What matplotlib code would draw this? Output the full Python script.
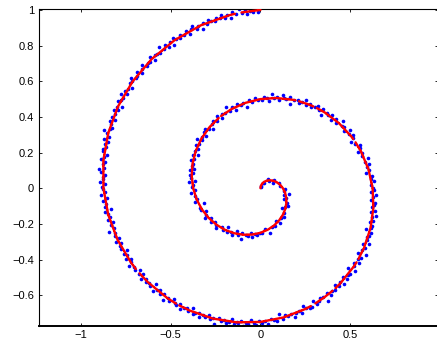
import numpy as np
import matplotlib
matplotlib.use("Agg")
import matplotlib.pyplot as plt

nan = np.nan

# Noisy samples: position along the spiral in turns (clockwise from +y) and radius
blue_turn = [
    0.012, 0.035, 0.060, 0.082, 0.105, 0.130, 0.158, 0.185, 0.210, 0.236,
    0.255, 0.268, 0.281, 0.292, 0.306, 0.318, 0.331, 0.343, 0.356, 0.368,
    0.381, 0.393, 0.405, 0.418, 0.431, 0.443, 0.456, 0.468, 0.481, 0.494,
    0.503, 0.510, 0.519, 0.526, 0.534, 0.540, 0.549, 0.557, 0.563, 0.571,
    0.580, 0.586, 0.594, 0.603, 0.610, 0.616, 0.625, 0.633, 0.639, 0.648,
    0.655, 0.662, 0.671, 0.677, 0.686, 0.693, 0.700, 0.708, 0.717, 0.723,
    0.731, 0.740, 0.746,
    0.752, 0.757, 0.763, 0.768, 0.773, 0.779, 0.785, 0.790, 0.795, 0.801,
    0.806, 0.812, 0.817, 0.822, 0.828, 0.833, 0.839, 0.844, 0.849, 0.855,
    0.860, 0.866, 0.871, 0.876, 0.882, 0.887, 0.893, 0.898, 0.903, 0.909,
    0.914, 0.920, 0.925, 0.930, 0.936, 0.941, 0.947, 0.952, 0.957, 0.963,
    0.968, 0.974, 0.979, 0.984, 0.990, 0.995,
    1.002, 1.006, 1.011, 1.015, 1.019, 1.024, 1.028, 1.032, 1.037, 1.041,
    1.045, 1.050, 1.054, 1.058, 1.063, 1.067, 1.071, 1.076, 1.080, 1.084,
    1.089, 1.093, 1.097, 1.102, 1.106, 1.110, 1.115, 1.119, 1.123, 1.128,
    1.132, 1.136, 1.141, 1.145, 1.149, 1.154, 1.158, 1.162, 1.167, 1.171,
    1.175, 1.180, 1.184, 1.188, 1.193, 1.197, 1.201, 1.206, 1.210, 1.214,
    1.219, 1.223, 1.227, 1.232, 1.236, 1.240, 1.245, 1.249,
    1.253, 1.256, 1.260, 1.263, 1.267, 1.270, 1.274, 1.277, 1.281, 1.284,
    1.288, 1.291, 1.295, 1.298, 1.302, 1.305, 1.309, 1.312, 1.316, 1.319,
    1.323, 1.326, 1.330, 1.333, 1.337, 1.340, 1.344, 1.347, 1.351, 1.354,
    1.358, 1.361, 1.365, 1.368, 1.372, 1.375, 1.379, 1.382, 1.386, 1.389,
    1.393, 1.396, 1.400, 1.403, 1.407, 1.410, 1.414, 1.417, 1.421, 1.424,
    1.428, 1.431, 1.435, 1.438, 1.442, 1.445, 1.449, 1.452, 1.456, 1.459,
    1.463, 1.466, 1.470, 1.473, 1.477, 1.480, 1.484, 1.487, 1.491, 1.494,
    1.498,
    1.502, 1.505, 1.508, 1.511, 1.514, 1.517, 1.520, 1.523, 1.526, 1.528,
    1.531, 1.534, 1.537, 1.540, 1.543, 1.546, 1.549, 1.552, 1.555, 1.558,
    1.561, 1.564, 1.567, 1.570, 1.573, 1.576, 1.578, 1.581, 1.584, 1.587,
    1.590, 1.593, 1.596, 1.599, 1.602, 1.605, 1.608, 1.611, 1.614, 1.617,
    1.620, 1.623, 1.626, 1.628, 1.631, 1.634, 1.637, 1.640, 1.643, 1.646,
    1.649, 1.652, 1.655, 1.658, 1.661, 1.664, 1.667, 1.670, 1.673, 1.676,
    1.678, 1.681, 1.684, 1.687, 1.690, 1.693, 1.696, 1.699, 1.702, 1.705,
    1.708, 1.711, 1.714, 1.717, 1.720, 1.723, 1.726, 1.728, 1.731, 1.734,
    1.737, 1.740, 1.743, 1.746, 1.749,
    1.751, 1.754, 1.756, 1.759, 1.761, 1.764, 1.766, 1.769, 1.771, 1.774,
    1.777, 1.779, 1.782, 1.784, 1.787, 1.789, 1.792, 1.794, 1.797, 1.799,
    1.802, 1.805, 1.807, 1.810, 1.812, 1.815, 1.817, 1.820, 1.822, 1.825,
    1.828, 1.830, 1.833, 1.835, 1.838, 1.840, 1.843, 1.845, 1.848, 1.850,
    1.853, 1.856, 1.858, 1.861, 1.863, 1.866, 1.868, 1.871, 1.873, 1.876,
    1.879, 1.881, 1.884, 1.886, 1.889, 1.891, 1.894, 1.896, 1.899, 1.901,
    1.904, 1.907, 1.909, 1.912, 1.914, 1.917, 1.919, 1.922, 1.924, 1.927,
    1.930, 1.932, 1.935, 1.937, 1.940, 1.942, 1.945, 1.947, 1.950, 1.952,
    1.955, 1.958, 1.960, 1.963, 1.965, 1.968, 1.970, 1.973, 1.975, 1.978,
    1.981, 1.983, 1.986, 1.988, 1.991, 1.993, 1.996, 1.998,
]
blue_radius = [
    0.014, 0.006, 0.033, 0.036, 0.068, 0.063, 0.088, 0.075, 0.109, 0.111,
    0.139, 0.131, 0.163, 0.137, 0.154, 0.145, 0.172, 0.185, 0.172, 0.164,
    0.193, 0.207, 0.199, 0.226, 0.205, 0.227, 0.227, 0.259, 0.233, 0.254,
    0.254, 0.265, 0.256, 0.280, 0.256, 0.275, 0.274, 0.304, 0.274, 0.293,
    0.274, 0.305, 0.294, 0.306, 0.281, 0.317, 0.307, 0.331, 0.320, 0.314,
    0.333, 0.323, 0.354, 0.337, 0.330, 0.354, 0.353, 0.327, 0.370, 0.358,
    0.367, 0.386, 0.364,
    0.382, 0.376, 0.402, 0.369, 0.389, 0.399, 0.387, 0.403, 0.386, 0.404,
    0.398, 0.421, 0.407, 0.420, 0.396, 0.421, 0.413, 0.433, 0.422, 0.450,
    0.421, 0.434, 0.422, 0.444, 0.454, 0.438, 0.427, 0.451, 0.462, 0.451,
    0.474, 0.449, 0.468, 0.464, 0.493, 0.463, 0.481, 0.460, 0.491, 0.479,
    0.488, 0.463, 0.499, 0.486, 0.509, 0.497,
    0.495, 0.512, 0.508, 0.493, 0.530, 0.509, 0.520, 0.507, 0.535, 0.522,
    0.519, 0.536, 0.500, 0.532, 0.539, 0.521, 0.534, 0.556, 0.532, 0.547,
    0.535, 0.547, 0.563, 0.545, 0.562, 0.531, 0.562, 0.557, 0.574, 0.548,
    0.573, 0.560, 0.596, 0.572, 0.580, 0.566, 0.596, 0.577, 0.594, 0.588,
    0.568, 0.584, 0.605, 0.600, 0.583, 0.600, 0.592, 0.625, 0.602, 0.618,
    0.603, 0.616, 0.596, 0.625, 0.616, 0.635, 0.618, 0.628,
    0.631, 0.619, 0.644, 0.630, 0.617, 0.641, 0.638, 0.633, 0.651, 0.629,
    0.663, 0.642, 0.651, 0.638, 0.659, 0.652, 0.633, 0.668, 0.663, 0.653,
    0.662, 0.678, 0.655, 0.669, 0.664, 0.694, 0.657, 0.681, 0.673, 0.688,
    0.671, 0.682, 0.699, 0.665, 0.690, 0.686, 0.699, 0.679, 0.713, 0.689,
    0.700, 0.684, 0.706, 0.701, 0.717, 0.696, 0.735, 0.705, 0.700, 0.714,
    0.722, 0.700, 0.723, 0.729, 0.718, 0.702, 0.737, 0.719, 0.729, 0.747,
    0.727, 0.736, 0.723, 0.744, 0.713, 0.749, 0.742, 0.736, 0.760, 0.743,
    0.755,
    0.744, 0.765, 0.756, 0.741, 0.763, 0.758, 0.781, 0.753, 0.767, 0.760,
    0.775, 0.749, 0.770, 0.783, 0.766, 0.776, 0.764, 0.802, 0.776, 0.786,
    0.768, 0.787, 0.781, 0.801, 0.779, 0.788, 0.800, 0.771, 0.800, 0.789,
    0.797, 0.815, 0.788, 0.804, 0.800, 0.787, 0.814, 0.802, 0.830, 0.802,
    0.816, 0.800, 0.814, 0.828, 0.792, 0.822, 0.817, 0.829, 0.816, 0.840,
    0.816, 0.829, 0.814, 0.836, 0.831, 0.852, 0.829, 0.825, 0.849, 0.835,
    0.843, 0.822, 0.850, 0.846, 0.838, 0.862, 0.836, 0.856, 0.850, 0.880,
    0.846, 0.859, 0.842, 0.869, 0.856, 0.863, 0.876, 0.842, 0.872, 0.865,
    0.878, 0.859, 0.890, 0.868, 0.879,
    0.881, 0.867, 0.895, 0.877, 0.882, 0.868, 0.891, 0.907, 0.880, 0.890,
    0.880, 0.902, 0.890, 0.873, 0.900, 0.905, 0.892, 0.899, 0.887, 0.915,
    0.894, 0.907, 0.929, 0.900, 0.895, 0.908, 0.918, 0.894, 0.918, 0.911,
    0.927, 0.907, 0.920, 0.896, 0.930, 0.921, 0.917, 0.941, 0.914, 0.931,
    0.924, 0.913, 0.937, 0.933, 0.952, 0.927, 0.933, 0.946, 0.924, 0.942,
    0.956, 0.932, 0.942, 0.939, 0.957, 0.928, 0.952, 0.951, 0.943, 0.975,
    0.950, 0.963, 0.944, 0.962, 0.937, 0.973, 0.961, 0.955, 0.970, 0.961,
    0.976, 0.952, 0.972, 0.988, 0.962, 0.973, 0.948, 0.981, 0.971, 0.989,
    0.978, 0.969, 0.986, 0.981, 0.998, 0.977, 0.988, 0.971, 0.998, 0.984,
    1.012, 0.989, 1.001, 0.982, 0.998, 0.991, 1.010, 0.990,
]

# Fitted curve (nan marks breaks in the curve)
red_turn = [
    0.0, 0.0278, 0.0556, 0.0833, 0.1111, 0.1389, 0.1667, 0.1944, 0.2222, 0.25,
    0.2778, 0.3056, 0.3333, 0.3611, 0.3889, 0.4167, 0.4444, 0.4722, 0.5, 0.5278,
    0.5556, 0.5833, 0.6111, 0.6389, 0.6667, 0.6944, 0.7222, 0.75, 0.7778, 0.8056,
    0.8333, 0.8611, 0.8889, 0.915, nan, 0.921, 0.9444, 0.9722, 1.0, 1.0278,
    1.0556, 1.06, nan, 1.066, 1.0833, 1.091, nan, 1.097, 1.1111, 1.1389,
    1.1667, 1.172, nan, 1.178, 1.1944, 1.2222, 1.25, 1.2778, 1.3056, 1.3333,
    1.35, nan, 1.355, 1.3611, 1.3889, 1.398, nan, 1.403, 1.4167, 1.43, nan, 1.436, 1.4444, 1.4722,
    1.5, 1.5278, 1.5556, 1.5833, 1.596, nan, 1.6, 1.6111, 1.6389, 1.652, nan, 1.658, 1.6667, 1.6944,
    1.7222, 1.75, 1.7778, 1.8056, 1.8333, 1.8611, 1.8889, 1.9167, 1.9444, 1.9722, 1.977, nan, 1.983, 2.0,
]
red_radius = [
    0.0, 0.0139, 0.0278, 0.0417, 0.0556, 0.0694, 0.0833, 0.0972, 0.1111, 0.125,
    0.1389, 0.1528, 0.1667, 0.1806, 0.1944, 0.2083, 0.2222, 0.2361, 0.25, 0.2639,
    0.2778, 0.2917, 0.3056, 0.3194, 0.3333, 0.3472, 0.3611, 0.375, 0.3889, 0.4028,
    0.4167, 0.4306, 0.4444, 0.4575, nan, 0.4605, 0.4722, 0.4861, 0.5, 0.5139,
    0.5278, 0.53, nan, 0.533, 0.5417, 0.5455, nan, 0.5485, 0.5556, 0.5694,
    0.5833, 0.586, nan, 0.589, 0.5972, 0.6111, 0.625, 0.6389, 0.6528, 0.6667,
    0.675, nan, 0.6775, 0.6806, 0.6944, 0.699, nan, 0.7015, 0.7083, 0.715, nan, 0.718, 0.7222, 0.7361,
    0.75, 0.7639, 0.7778, 0.7917, 0.798, nan, 0.8, 0.8056, 0.8194, 0.826, nan, 0.829, 0.8333, 0.8472,
    0.8611, 0.875, 0.8889, 0.9028, 0.9167, 0.9306, 0.9444, 0.9583, 0.9722, 0.9861, 0.9885, nan, 0.9915, 1.0,
]

x_ticks = [-1, -0.5, 0, 0.5]
x_tick_labels = ["\u22121", "\u22120.5", "0", "0.5"]
y_ticks = [-0.6, -0.4, -0.2, 0, 0.2, 0.4, 0.6, 0.8, 1]
y_tick_labels = ["\u22120.6", "\u22120.4", "\u22120.2", "0", "0.2", "0.4", "0.6", "0.8", "1"]


def spiral_xy(turn, radius):
    ang = 2 * np.pi * np.asarray(turn, dtype=float)
    rad = np.asarray(radius, dtype=float)
    return rad * np.sin(ang), rad * np.cos(ang)


plt.rcParams["font.family"] = ["Liberation Sans", "DejaVu Sans"]
plt.rcParams["font.size"] = 8

fig = plt.figure(figsize=(4.37, 3.47), dpi=100)
ax = fig.add_axes([39 / 437, 21.5 / 347, 399.5 / 437, 317 / 347])

bx, by = spiral_xy(blue_turn, blue_radius)
ax.plot(bx, by, linestyle="none", marker="o", markersize=2.6,
        markerfacecolor="#0000ff", markeredgewidth=0, zorder=2)

rx, ry = spiral_xy(red_turn, red_radius)
ax.plot(rx, ry, color="#ff0000", linewidth=1.7, linestyle=(0, (2.0, 0.35)),
        dash_capstyle="round", solid_joinstyle="round", zorder=3)

ax.set_xlim(-1.234, 0.992)
ax.set_ylim(-0.77, 1.008)
ax.set_xticks(x_ticks)
ax.set_xticklabels(x_tick_labels)
ax.set_yticks(y_ticks)
ax.set_yticklabels(y_tick_labels)

ax.tick_params(direction="in", length=2.3, width=0.6, top=True, right=True,
               pad=3.5, labelsize=8, colors="black")
for side in ("left", "top", "right"):
    ax.spines[side].set_linewidth(0.8)
ax.spines["bottom"].set_linewidth(1.4)

fig.savefig("out.png", dpi=100)
